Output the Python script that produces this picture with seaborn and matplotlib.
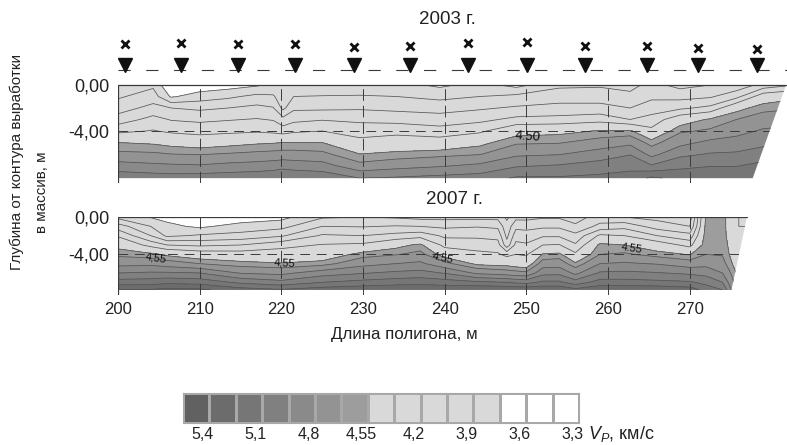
import numpy as np
import pandas as pd
import matplotlib
matplotlib.use("Agg")
import matplotlib.pyplot as plt
from matplotlib.colors import ListedColormap, BoundaryNorm
from matplotlib.patches import Polygon
import seaborn as sns

# ---------------- data ----------------
levels = [3.3, 3.45, 3.6, 3.75, 3.9, 4.05, 4.2, 4.35, 4.55,
          4.65, 4.8, 4.95, 5.1, 5.25, 5.4, 5.55]
band_colors = ['#ffffff', '#ffffff', '#ffffff',
               '#d9d9d9', '#d9d9d9', '#d9d9d9', '#d9d9d9', '#d9d9d9',
               '#9d9d9d', '#939393', '#8a8a8a', '#808080', '#767676', '#6c6c6c', '#616161']
cbar_labels = ["5,4", "5,1", "4,8", "4,55", "4,2", "3,9", "3,6", "3,3"]
x_ticks = [200, 210, 220, 230, 240, 250, 260, 270]

# 2003 section: depth rows, station columns, Vp (km/s) per column (top -> bottom)
depth_2003 = [0, -1, -2, -3, -4, -5, -6, -7, -8.1]
x_2003 = [200, 204.3, 206.5, 210, 213.5, 217, 219, 220.2, 221.5, 225, 229.6, 234.1,
          239.4, 244.3, 248.8, 254, 259, 262.7, 265.3, 268.8, 272.5, 275.7, 279, 283]
v_2003 = [
    [3.82, 3.88, 3.98, 4.12, 4.31, 4.55, 4.68, 4.86, 5.05],
    [3.87, 3.97, 4.10, 4.25, 4.36, 4.53, 4.67, 4.83, 5.03],
    [3.60, 3.73, 4.05, 4.19, 4.32, 4.50, 4.65, 4.82, 5.02],
    [3.65, 3.82, 4.02, 4.17, 4.29, 4.47, 4.64, 4.81, 5.03],
    [3.68, 3.87, 4.05, 4.19, 4.31, 4.50, 4.66, 4.84, 5.04],
    [3.73, 3.94, 4.09, 4.21, 4.33, 4.53, 4.68, 4.86, 5.05],
    [3.78, 3.92, 4.06, 4.19, 4.31, 4.54, 4.69, 4.88, 5.06],
    [3.76, 3.80, 3.86, 4.10, 4.28, 4.55, 4.70, 4.90, 5.08],
    [3.80, 3.90, 4.02, 4.16, 4.32, 4.55, 4.70, 4.88, 5.07],
    [3.76, 3.91, 4.02, 4.19, 4.35, 4.55, 4.68, 4.86, 5.05],
    [3.82, 3.91, 4.03, 4.17, 4.28, 4.40, 4.55, 4.69, 4.95],
    [3.80, 3.90, 4.01, 4.15, 4.30, 4.44, 4.58, 4.74, 4.97],
    [3.72, 3.86, 3.99, 4.12, 4.26, 4.43, 4.61, 4.78, 5.00],
    [3.80, 3.90, 4.03, 4.16, 4.32, 4.51, 4.64, 4.83, 5.02],
    [3.70, 3.94, 4.07, 4.24, 4.49, 4.63, 4.77, 4.93, 5.12],
    [3.87, 3.98, 4.10, 4.25, 4.51, 4.64, 4.79, 4.96, 5.12],
    [3.88, 3.98, 4.10, 4.29, 4.56, 4.71, 4.87, 5.01, 5.14],
    [3.85, 3.94, 4.05, 4.20, 4.57, 4.76, 4.94, 5.06, 5.15],
    [3.95, 4.02, 4.12, 4.26, 4.39, 4.60, 4.75, 4.96, 5.28],
    [3.85, 4.00, 4.17, 4.46, 4.63, 4.75, 4.91, 5.06, 5.20],
    [3.90, 4.03, 4.24, 4.57, 4.67, 4.84, 4.96, 5.09, 5.22],
    [3.95, 4.15, 4.50, 4.65, 4.75, 4.86, 4.97, 5.09, 5.22],
    [4.10, 4.45, 4.61, 4.72, 4.82, 4.91, 5.02, 5.14, 5.25],
    [4.20, 4.52, 4.64, 4.75, 4.84, 4.93, 5.03, 5.15, 5.26],
]

# 2007 section
depth_2007 = [0, -1, -2, -3, -4, -5, -6, -7, -7.82]
x_2007 = [200, 204, 206, 210, 215, 220, 225, 230, 234, 237, 240, 244, 246.5, 247.6,
          248.7, 250, 252, 254, 256, 259, 262, 266, 270, 272, 274, 276, 280]
v_2007 = [
    [3.85, 4.12, 4.33, 4.50, 4.62, 4.75, 4.95, 5.17, 5.41],
    [3.74, 3.90, 4.05, 4.30, 4.58, 4.76, 4.97, 5.18, 5.42],
    [3.70, 3.79, 3.87, 4.20, 4.52, 4.72, 4.97, 5.21, 5.44],
    [3.60, 3.72, 3.92, 4.17, 4.45, 4.65, 4.95, 5.19, 5.43],
    [3.65, 3.81, 3.95, 4.20, 4.43, 4.59, 4.79, 5.07, 5.32],
    [3.70, 3.85, 4.03, 4.30, 4.43, 4.56, 4.76, 5.00, 5.27],
    [3.88, 4.05, 4.22, 4.36, 4.44, 4.60, 4.88, 5.10, 5.33],
    [3.90, 4.04, 4.20, 4.38, 4.60, 4.75, 4.94, 5.15, 5.36],
    [3.88, 4.06, 4.25, 4.50, 4.64, 4.80, 4.98, 5.18, 5.38],
    [3.85, 4.05, 4.29, 4.58, 4.69, 4.83, 5.00, 5.20, 5.38],
    [3.85, 4.02, 4.17, 4.30, 4.48, 4.69, 4.94, 5.17, 5.37],
    [3.85, 4.04, 4.17, 4.28, 4.39, 4.52, 4.77, 5.13, 5.40],
    [3.85, 4.02, 4.15, 4.26, 4.37, 4.50, 4.74, 5.11, 5.39],
    [3.72, 3.80, 3.86, 3.96, 4.30, 4.50, 4.72, 5.10, 5.38],
    [3.85, 4.01, 4.13, 4.24, 4.35, 4.47, 4.70, 5.07, 5.38],
    [3.85, 4.00, 4.12, 4.22, 4.33, 4.45, 4.68, 5.05, 5.38],
    [3.88, 4.02, 4.18, 4.35, 4.56, 4.72, 4.90, 5.13, 5.37],
    [3.88, 4.02, 4.18, 4.36, 4.58, 4.73, 4.91, 5.13, 5.37],
    [3.85, 3.92, 4.10, 4.22, 4.38, 4.57, 4.76, 5.02, 5.30],
    [3.95, 4.10, 4.38, 4.58, 4.65, 4.80, 4.97, 5.16, 5.37],
    [3.90, 4.15, 4.35, 4.55, 4.67, 4.82, 4.98, 5.16, 5.37],
    [3.85, 3.98, 4.20, 4.45, 4.60, 4.79, 4.96, 5.14, 5.37],
    [3.82, 3.90, 4.10, 4.30, 4.54, 4.72, 4.92, 5.12, 5.33],
    [4.58, 4.60, 4.62, 4.63, 4.65, 4.75, 4.90, 5.05, 5.20],
    [4.60, 4.60, 4.60, 4.62, 4.64, 4.70, 4.80, 4.95, 5.10],
    [4.35, 4.35, 4.38, 4.40, 4.42, 4.45, 4.50, 4.52, 4.55],
    [4.35, 4.35, 4.38, 4.40, 4.42, 4.45, 4.50, 4.52, 4.55],
]

# stations above the 2003 section
station_x = [200.9, 207.7, 214.7, 221.7, 228.9, 235.7, 242.8, 250.1, 257.2, 264.7, 271.0, 278.2]
cross_h = [3.54, 3.63, 3.54, 3.54, 3.33, 3.42, 3.63, 3.71, 3.42, 3.42, 3.24, 3.13]

# contour labels (x, depth, text, rotation)
labels_2003 = [(250.2, -4.5, "4.50", -4)]
labels_2007 = [(204.7, -4.43, "4,55", -8), (220.4, -4.96, "4,55", -3),
               (239.8, -4.43, "4.55", -12), (262.9, -3.36, "4.55", -8)]

# ---------------- style ----------------
sns.set_theme(style="white")
plt.rcParams['font.family'] = ['Liberation Sans', 'DejaVu Sans']
plt.rcParams['mathtext.fontset'] = 'custom'
plt.rcParams['mathtext.rm'] = 'Liberation Sans'
plt.rcParams['mathtext.it'] = 'Liberation Sans:italic'

W, H = 787, 445
fig = plt.figure(figsize=(W / 100, H / 100), dpi=100)
TXT = '#222222'
LINE = '#3a3a3a'


def fx(px):
    return px / W


def fy(py):
    return 1 - py / H


def draw_section(ax, xs, ds, cols, edge_top, edge_bot, ybot, lbls, lbl_fs):
    Z = np.array(cols).T
    X, Y = np.meshgrid(xs, ds)
    clip = Polygon([(200, 0), (edge_top, 0), (edge_bot, ds[-1]), (200, ds[-1])],
                   closed=True, transform=ax.transData, facecolor='none', edgecolor='none')
    cf = ax.contourf(X, Y, Z, levels=levels, colors=band_colors)
    cf.set_clip_path(clip)
    cl = ax.contour(X, Y, Z, levels=levels, colors='#555555', linewidths=0.55)
    cl.set_clip_path(clip)
    hl, = ax.plot([200, 300], [-4, -4], color=LINE, lw=0.7, dashes=(10, 7))
    hl.set_clip_path(clip)
    for xv in x_ticks[1:]:
        ax.plot([xv, xv], [ybot, 0], color=LINE, lw=0.7, dashes=(12, 5))
    ax.plot([200, 200], [ybot, 0], color=LINE, lw=0.9)
    ax.plot([200, edge_top], [0, 0], color=LINE, lw=0.9)
    for (lx, ly, t, r) in lbls:
        ax.text(lx, ly, t, fontsize=lbl_fs, rotation=r, ha='center', va='center', color='#111111')
    for s in ax.spines.values():
        s.set_visible(False)
    ax.set_yticks([0, -4])
    ax.set_yticklabels(["0,00", "-4,00"], fontsize=13)
    ax.tick_params(axis='both', length=0, pad=6, colors=TXT)
    ax.set_facecolor('none')


# 2003 panel
ax1 = fig.add_axes([fx(118), fy(183), fx(669), 153 / H])
ax1.set_xlim(200, 281.9)
ax1.set_ylim(-8.52, 4.78)
draw_section(ax1, x_2003, depth_2003, v_2003, 281.8, 277.7, -8.52, labels_2003, 9.5)
ax1.set_xticks([])
ax1.plot([200, 282], [1.3, 1.3], color=LINE, lw=0.8, dashes=(11, 14))
ax1.plot(station_x, [1.74] * len(station_x), linestyle='none', marker='v',
         color='#111111', ms=9.5)
ax1.plot(station_x, cross_h, linestyle='none', marker='x', color='#111111', ms=5.5, mew=2)

# 2007 panel
ax2 = fig.add_axes([fx(118), fy(295), fx(669), 78 / H])
ax2.set_xlim(200, 281.9)
ax2.set_ylim(-8.36, 0)
draw_section(ax2, x_2007, depth_2007, v_2007, 277.0, 275.1, -8.36, labels_2007, 8)
ax2.set_xticks(x_ticks)
ax2.set_xticklabels([str(v) for v in x_ticks], fontsize=12)
ax2.tick_params(axis='x', pad=5)

fig.text(fx(447), fy(20), "2003 г.", ha='center', va='center', fontsize=13.5, color=TXT)
fig.text(fx(454), fy(200), "2007 г.", ha='center', va='center', fontsize=13.5, color=TXT)
fig.text(fx(404), fy(335), "Длина полигона, м", ha='center', va='center', fontsize=12.2, color=TXT)
fig.text(fx(17), fy(162), "Глубина от контура выработки", rotation=90,
         ha='center', va='center', fontsize=11, color=TXT)
fig.text(fx(42), fy(192), "в массив, м", rotation=90,
         ha='center', va='center', fontsize=11, color=TXT)

# colour scale (high -> low, left to right)
cax = fig.add_axes([fx(183), fy(423), fx(396), 30 / H])
mids = [(levels[i] + levels[i + 1]) / 2 for i in range(len(levels) - 1)][::-1]
cb_df = pd.DataFrame([mids])
cmap = ListedColormap(band_colors)
norm = BoundaryNorm(levels, len(band_colors))
sns.heatmap(cb_df, ax=cax, cmap=cmap, norm=norm, cbar=False, linewidths=0.8,
            linecolor='#a8a8a8', xticklabels=False, yticklabels=False)
for s in cax.spines.values():
    s.set_visible(True)
    s.set_color('#a8a8a8')
    s.set_linewidth(0.8)
cax.set_xticks([k - 0.25 for k in range(1, 16, 2)])
cax.set_xticklabels(cbar_labels, fontsize=11.5, color=TXT)
cax.tick_params(axis='x', length=0, pad=3)
fig.text(fx(588), fy(434), r"$V_P$, км/с", ha='left', va='center', fontsize=13, color=TXT)

fig.savefig("out.png", dpi=100)
